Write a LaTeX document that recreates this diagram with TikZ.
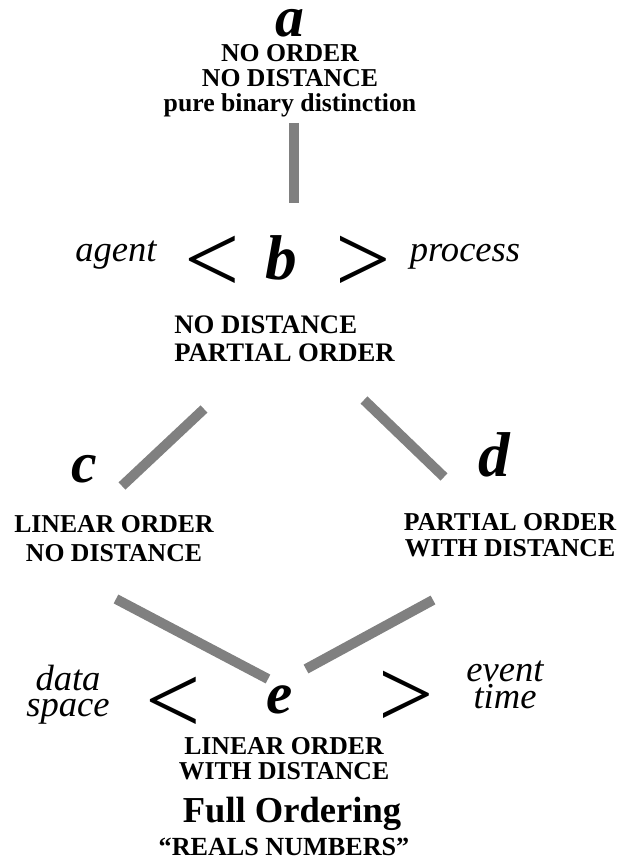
\documentclass[tikz,border=0pt]{standalone}
\usepackage{fontspec}
\setmainfont{Liberation Serif}
\definecolor{bargray}{RGB}{128,128,128}

\begin{document}
\begin{tikzpicture}[
    letter/.style={anchor=base, inner sep=0pt, font=\fontsize{#1}{#1}\selectfont\bfseries\itshape},
    letter/.default=45,
    caps/.style={anchor=base, inner sep=0pt, align=center, font=\fontsize{18.3}{#1}\selectfont\bfseries},
    caps/.default=17.8,
    sidetext/.style={anchor=base, inner sep=0pt, align=center, font=\fontsize{26}{19.2}\selectfont\itshape},
    chevron/.style={anchor=base, inner sep=0pt, font=\fontsize{70}{70}\selectfont},
    link/.style={draw=bargray, line width=0.25cm}]
      \useasboundingbox (0,0) rectangle (15.6,21.575);

      % top: a
      \node[letter=41] (A0) at (7.25,20.65) {a};
      \node[caps] (AT0) at (7.25,18.775) {NO ORDER\\ NO DISTANCE\\ pure binary distinction};

      % b with agent and process
      \node[sidetext] (AG1) at (2.9,15.025) {agent};
      \node[chevron] (LT1) at (5.3,14.25) {<};
      \node[letter] (B1) at (7.025,14.575) {b};
      \node[chevron] (GT1) at (9.075,14.25) {>};
      \node[sidetext] (PR1) at (11.625,15.025) {process};
      \node[caps=20.6, anchor=base west, align=left, font=\fontsize{19}{20.6}\selectfont\bfseries]
        (BT1) at (4.35,12.525) {NO DISTANCE\\ PARTIAL ORDER};

      % c and d
      \node[letter=41] (C2) at (2.1,9.5) {c};
      \node[caps=21.3] (CT2) at (2.85,7.525) {LINEAR ORDER\\ NO DISTANCE};
      \node[letter] (D2) at (12.35,9.65) {d};
      \node[caps=19.2] (DT2) at (12.75,7.65) {PARTIAL ORDER\\ WITH DISTANCE};

      % e with data space and event time
      \node[sidetext] (DS3) at (1.7,3.65) {data\\ space};
      \node[chevron] (LT3) at (4.325,3.225) {<};
      \node[letter=42] (E3) at (7.0,3.725) {e};
      \node[chevron] (GT3) at (10.15,3.375) {>};
      \node[sidetext, font=\fontsize{26}{19.9}\selectfont\itshape] (EV3) at (12.625,3.85) {event\\ time};
      \node[caps] (ET3) at (7.1,2.075) {LINEAR ORDER\\ WITH DISTANCE};
      \node[caps, font=\fontsize{26}{26}\selectfont\bfseries] (FO3) at (7.3,1.0) {Full Ordering};
      \node[caps, font=\fontsize{18.6}{18.6}\selectfont\bfseries] (RN3) at (7.1,0.2) {“REALS NUMBERS”};

      % bar ends
      \coordinate (a1) at (7.35,18.5);
      \coordinate (b1) at (7.35,16.5);
      \coordinate (bc1) at (5.1,11.35);
      \coordinate (c1) at (3.05,9.425);
      \coordinate (bd1) at (9.1,11.575);
      \coordinate (d1) at (11.1,9.65);
      \coordinate (ce1) at (2.9,6.6);
      \coordinate (e1) at (6.7,4.6);
      \coordinate (de1) at (10.825,6.575);
      \coordinate (e2) at (7.65,4.85);

      \draw [link] (a1) -- (b1);
      \draw [link] (bc1) -- (c1);
      \draw [link] (bd1) -- (d1);
      \draw [link] (ce1) -- (e1);
      \draw [link] (de1) -- (e2);
  \end{tikzpicture}
\end{document}
